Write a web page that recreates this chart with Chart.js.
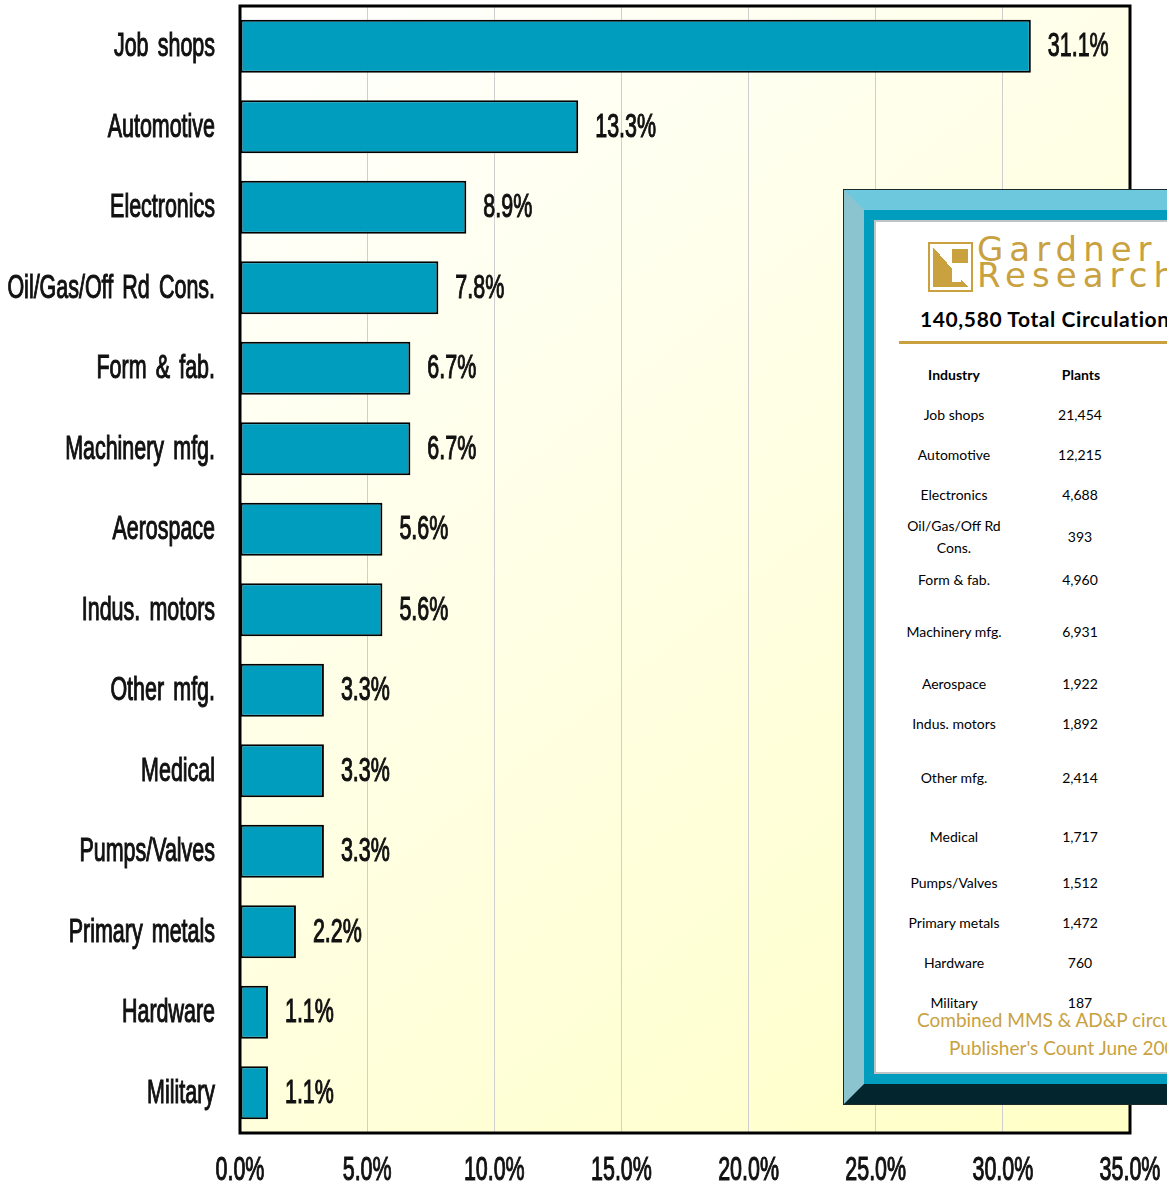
<!DOCTYPE html>
<html>
<head>
<meta charset="utf-8">
<script src="https://cdn.jsdelivr.net/npm/chart.js@4.4.0/dist/chart.umd.min.js"></script>
<style>
  html, body { margin: 0; padding: 0; background: #fff; overflow: hidden; }
  #wrap { position: relative; width: 1167px; height: 1188px; overflow: hidden; }
  #chart { position: absolute; left: 0; top: 0; }
  .abs { position: absolute; }
  #frame {
    left: 844px; top: 190px; width: 420px; height: 874px;
    border-left: 20px solid #8bc3cf; border-top: 20px solid #6dc8de;
    border-bottom: 20px solid #03262e; border-right: 20px solid #03262e;
    box-shadow: 0 0 0 1px #1a2a2a;
  }
  #teal { left: 0; top: 0; right: 0; bottom: 0; border: 10px solid #009dbf; }
  #inner { left: 0; top: 0; right: 0; bottom: 0; border: 2px solid #bfc4c6; background: #fff; }
  .txt { font-family: Lato, "Open Sans", sans-serif; color: #000; white-space: nowrap; }
  .cell { width: 112px; text-align: center; font-size: 14px; line-height: 22px; transform: translateY(-50%); white-space: normal; }
  .gold { color: #c9a13f; }
</style>
</head>
<body>
<div id="wrap">
  <canvas id="chart" width="1167" height="1188"></canvas>
  <div id="frame" class="abs">
    <div id="teal" class="abs"><div id="inner" class="abs"></div></div>
  </div>
  <div id="inset"></div>
</div>
<script>
// Dados do gráfico
const industrias = ['Job shops', 'Automotive', 'Electronics', 'Oil/Gas/Off Rd Cons.', 'Form & fab.',
  'Machinery mfg.', 'Aerospace', 'Indus. motors', 'Other mfg.', 'Medical', 'Pumps/Valves',
  'Primary metals', 'Hardware', 'Military'];
const percentuais = [31.1, 13.3, 8.9, 7.8, 6.7, 6.7, 5.6, 5.6, 3.3, 3.3, 3.3, 2.2, 1.1, 1.1];
const plantas = [21454, 12215, 4688, 393, 4960, 6931, 1922, 1892, 2414, 1717, 1512, 1472, 760, 187];
const eixoX = [0, 5, 10, 15, 20, 25, 30, 35];
const totalCirculacao = '140,580 Total Circulation';
const notaRodape = ['Combined MMS & AD&P circulation', "Publisher's Count June 200"];

// fonte "condensada": Liberation Sans comprimida na horizontal
const fonteTxt = '33px "Liberation Sans", Arial, sans-serif';
const aperto = 0.65;
const pct = v => v.toFixed(1) + '%';

function textoEstreito(ctx, s, x, y, alinhamento) {
  ctx.save();
  ctx.translate(x, y);
  ctx.scale(aperto, 1);
  ctx.textAlign = alinhamento;
  ctx.fillText(s, 0, 0);
  ctx.strokeText(s, 0, 0);
  ctx.restore();
}

// Fundo em degradê da área do gráfico
const fundoPlugin = {
  id: 'fundo',
  beforeDraw(chart) {
    const { ctx, chartArea: a } = chart;
    const g = ctx.createLinearGradient(a.left, a.top, a.right, a.bottom);
    g.addColorStop(0, '#ffffff');
    g.addColorStop(1, '#ffffc6');
    ctx.save();
    ctx.fillStyle = g;
    ctx.fillRect(a.left, a.top, a.right - a.left, a.bottom - a.top);
    ctx.restore();
  }
};

// Moldura preta, rótulos dos eixos e rótulos de valor
const moldura = {
  id: 'moldura',
  afterDatasetsDraw(chart) {
    const { ctx, chartArea: a, scales } = chart;
    ctx.save();
    ctx.font = fonteTxt;
    ctx.fillStyle = '#111';
    ctx.strokeStyle = '#111';
    ctx.lineWidth = 1.1;
    ctx.textBaseline = 'middle';
    chart.getDatasetMeta(0).data.forEach((bar, i) => {
      textoEstreito(ctx, pct(percentuais[i]), bar.x + 17, bar.y + 1, 'left');
    });
    ctx.wordSpacing = '5px';
    scales.y.ticks.forEach((t, i) => {
      textoEstreito(ctx, industrias[i], scales.y.right - 25, scales.y.getPixelForTick(i) + 1, 'right');
    });
    ctx.wordSpacing = '0px';
    scales.x.ticks.forEach((t, i) => {
      textoEstreito(ctx, pct(t.value), scales.x.getPixelForTick(i), scales.x.top + 38, 'center');
    });
    ctx.lineWidth = 3;
    ctx.strokeStyle = '#000';
    ctx.strokeRect(a.left, a.top, a.right - a.left, a.bottom - a.top);
    ctx.restore();
  }
};

new Chart(document.getElementById('chart').getContext('2d'), {
  type: 'bar',
  data: {
    labels: industrias,
    datasets: [{
      data: percentuais,
      backgroundColor: '#009dbf',
      borderColor: '#000',
      borderWidth: 2,
      borderSkipped: false,
      barPercentage: 0.66,
      categoryPercentage: 1
    }]
  },
  options: {
    indexAxis: 'y',
    responsive: false,
    animation: false,
    devicePixelRatio: 1,
    layout: { padding: { top: 6, right: 37, left: 0, bottom: 0 } },
    plugins: { legend: { display: false }, tooltip: { enabled: false } },
    scales: {
      x: {
        min: 0, max: 35,
        afterBuildTicks: s => { s.ticks = eixoX.map(v => ({ value: v })); },
        afterFit: s => { s.height = 55; s.paddingLeft = 0; s.paddingRight = 0; },
        ticks: { display: false },
        grid: { color: '#cfcfcf', lineWidth: 1, drawTicks: false },
        border: { display: false }
      },
      y: {
        afterFit: s => { s.width = 240; s.paddingTop = 0; s.paddingBottom = 0; },
        ticks: { display: false },
        grid: { display: false, drawTicks: false },
        border: { display: false }
      }
    }
  },
  plugins: [fundoPlugin, moldura]
});

// Quadro com a tabela da Gardner Research
const inset = document.getElementById('inset');
let html = '';
// logotipo
html += '<div class="abs" style="left:928px;top:242px;width:41px;height:46px;border:2px solid #c9a13f;background:#fff;"></div>';
html += '<div class="abs" style="left:933px;top:247px;width:35px;height:40px;background:linear-gradient(to top right,#c9a13f 50%,#fff 50%);"></div>';
html += '<div class="abs" style="left:952px;top:262px;width:9px;height:20px;background:#fff;"></div>';
html += '<div class="abs" style="left:952px;top:249px;width:16px;height:14px;background:#c9a13f;"></div>';
html += '<div class="abs txt gold" style="left:977px;top:236px;font-family:\'DejaVu Sans\';font-size:34px;line-height:26px;letter-spacing:6px;">Gardner<br>Research</div>';
html += '<div class="abs txt" style="left:920px;top:306px;font-size:21px;font-weight:bold;line-height:26px;letter-spacing:0.6px;">' + totalCirculacao + '</div>';
html += '<div class="abs" style="left:899px;top:341px;width:300px;height:3px;background:#c9a13f;"></div>';
html += '<div class="abs txt cell" style="left:898px;top:375px;font-weight:bold;">Industry</div>';
html += '<div class="abs txt cell" style="left:1025px;top:375px;font-weight:bold;">Plants</div>';
// centros verticais das linhas da tabela (layout)
const linhasY = [415, 455, 495, 537, 580, 632, 684, 724, 778, 837, 883, 923, 963, 1003];
industrias.forEach((nome, i) => {
  html += '<div class="abs txt cell" style="left:898px;top:' + linhasY[i] + 'px;">' + nome.replace('&', '&amp;') + '</div>';
  html += '<div class="abs txt cell" style="left:1024px;top:' + linhasY[i] + 'px;">' + plantas[i].toLocaleString('en-US') + '</div>';
});
html += '<div class="abs txt gold" style="left:917px;top:1008px;font-size:19px;line-height:24px;">' + notaRodape[0].replace(/&/g, '&amp;') + '</div>';
html += '<div class="abs txt gold" style="left:949px;top:1036px;font-size:19px;line-height:24px;">' + notaRodape[1] + '</div>';
inset.innerHTML = html;
</script>
</body>
</html>
